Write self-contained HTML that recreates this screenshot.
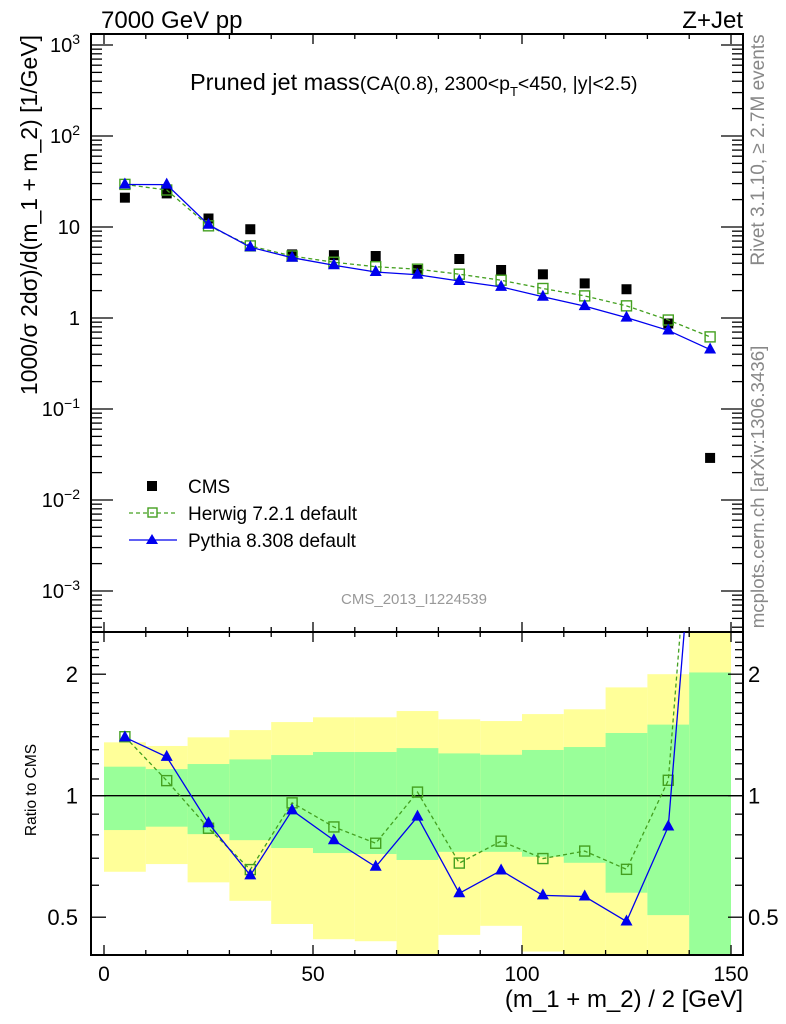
<!DOCTYPE html>
<html><head><meta charset="utf-8"><style>
html,body{margin:0;padding:0;background:#fff;}
svg{display:block;font-family:"Liberation Sans",Arial,sans-serif;}
</style></head><body>
<svg id="chart" width="786" height="1024" viewBox="0 0 786 1024" xmlns="http://www.w3.org/2000/svg">
<g id="bands"></g>
<g id="grid"></g>
<g id="series"></g>
<text x="101" y="28" font-size="24">7000 GeV pp</text>
<text x="743" y="28" font-size="24" text-anchor="end">Z+Jet</text>
<text x="190" y="90" font-size="23.5">Pruned jet mass<tspan font-size="19.5">(CA(0.8), 2300&lt;p<tspan font-size="13" dy="6">T</tspan><tspan dy="-6">&lt;450, |y|&lt;2.5)</tspan></tspan></text>
<text transform="translate(37,215) rotate(-90)" font-size="23" text-anchor="middle">1000/σ 2dσ)/d(m_1 + m_2) [1/GeV]</text>
<text transform="translate(36,790) rotate(-90)" font-size="15.5" text-anchor="middle">Ratio to CMS</text>
<text x="743" y="1007" font-size="24" text-anchor="end">(m_1 + m_2) / 2 [GeV]</text>
<text transform="translate(764,150) rotate(-90)" font-size="19" fill="#888" text-anchor="middle">Rivet 3.1.10, ≥ 2.7M events</text>
<text transform="translate(764,487) rotate(-90)" font-size="18.7" fill="#888" text-anchor="middle">mcplots.cern.ch [arXiv:1306.3436]</text>
<text x="414" y="604" font-size="15" fill="#999" text-anchor="middle">CMS_2013_I1224539</text>
<g>
<rect x="147" y="481" width="10" height="10" fill="#000"/>
<text x="188" y="493" font-size="19">CMS</text>
<line x1="129" y1="513" x2="177" y2="513" stroke="#44a020" stroke-width="1.3" stroke-dasharray="4,3"/>
<rect x="148" y="508" width="9" height="9" fill="none" stroke="#44a020" stroke-width="1.4"/>
<text x="188" y="520" font-size="19">Herwig 7.2.1 default</text>
<line x1="129" y1="540" x2="177" y2="540" stroke="#0000ee" stroke-width="1.3"/>
<polygon points="152,534 158,544 146,544" fill="#0000ee"/>
<text x="188" y="547" font-size="19">Pythia 8.308 default</text>
</g>
</svg>
<script>
const binCenters=[5,15,25,35,45,55,65,75,85,95,105,115,125,135,145];
const cmsValues=[21,23.4,12.4,9.45,5.0,4.9,4.8,3.37,4.45,3.37,3.02,2.4,2.07,0.87,0.029];
const herwigValues=[29.4,25.5,10.3,6.2,4.8,4.1,3.66,3.44,3.03,2.6,2.11,1.75,1.36,0.95,0.62];
const pythiaValues=[29.3,29.2,10.6,6.0,4.6,3.8,3.2,2.99,2.55,2.2,1.71,1.35,1.01,0.73,0.45];
const yellowHi=[1.356,1.328,1.395,1.454,1.522,1.564,1.564,1.621,1.546,1.531,1.593,1.637,1.855,2.0,3.0];
const greenHi=[1.18,1.164,1.198,1.23,1.261,1.283,1.283,1.312,1.273,1.263,1.298,1.32,1.43,1.5,2.02];
const greenLo=[0.822,0.838,0.803,0.776,0.742,0.721,0.717,0.693,0.726,0.726,0.706,0.682,0.575,0.506,0.3];
const yellowLo=[0.648,0.677,0.61,0.549,0.481,0.441,0.436,0.35,0.452,0.476,0.411,0.35,0.35,0.35,0.3];
const xTicks=[0,50,100,150];
const mainTickExps=[-3,-2,-1,0,1,2,3];
const ratioTicks=[0.5,1,2];

const NS="http://www.w3.org/2000/svg";
const L=91,R=743,T=34,MB=632,B=955;
const X=v=>104+v*4.18;
const Y=v=>318-91*Math.log10(v);
const RY=v=>795.7-121.5*Math.log2(v);
const clampR=y=>Math.max(MB,Math.min(B,y));
function mk(tag,attrs,parent){const e=document.createElementNS(NS,tag);for(const k in attrs)e.setAttribute(k,attrs[k]);parent.appendChild(e);return e;}
const bands=document.getElementById('bands'),grid=document.getElementById('grid'),ser=document.getElementById('series');

binCenters.forEach((c,i)=>{
  const x0=X(c-5),x1=X(c+5);
  let y1=clampR(RY(yellowHi[i])),y2=clampR(RY(yellowLo[i]));
  let r=mk('rect',{x:x0,y:y1,width:x1-x0,height:y2-y1,fill:'#ffff99'},bands);
  
  
  y1=clampR(RY(greenHi[i]));y2=clampR(RY(greenLo[i]));
  r=mk('rect',{x:x0,y:y1,width:x1-x0,height:y2-y1,fill:'#99ff99'},bands);
  
  
});

let f=mk('rect',{x:L,y:T,width:R-L,height:MB-T,fill:'none',stroke:'#000','stroke-width':2},grid);


f=mk('rect',{x:L,y:MB,width:R-L,height:B-MB,fill:'none',stroke:'#000','stroke-width':2},grid);


let ul=mk('line',{x1:L,y1:RY(1),x2:R,y2:RY(1),stroke:'#000','stroke-width':1.3},grid);



for(let v=0;v<=150;v+=10){
  const major=v%50===0,len=major?10:5,x=X(v);
  [[MB,-len],[B,-len],[T,len],[MB,len]].forEach(([y,d])=>mk('line',{x1:x,y1:y,x2:x,y2:y+d,stroke:'#000','stroke-width':1.3},grid));
}
xTicks.forEach(v=>{const t=mk('text',{x:X(v),y:981,'font-size':21,'text-anchor':'middle'},grid);t.textContent=v;
  
  });

for(let e=-4;e<=3;e++){for(let m=1;m<10;m++){const y=Y(m*Math.pow(10,e));if(y<T||y>MB)continue;const len=m===1?22:11;
  mk('line',{x1:L,y1:y,x2:L+len,y2:y,stroke:'#000','stroke-width':1.3},grid);
  mk('line',{x1:R,y1:y,x2:R-len,y2:y,stroke:'#000','stroke-width':1.3},grid);}}
mainTickExps.forEach(e=>{const y=Y(Math.pow(10,e));const t=mk('text',{x:80,y:y+7,'font-size':20,'text-anchor':'end'},grid);
  
  
  if(e===0)t.textContent='1';else if(e===1)t.textContent='10';
  else{t.textContent='10';const s=mk('tspan',{dy:-8,'font-size':14},t);s.textContent=String(e).replace('-','−');}});

for(let v=0.4;v<=2.5;v+=0.1){const y=RY(v);if(y<MB||y>B)continue;const major=ratioTicks.some(t=>Math.abs(t-v)<1e-6);const len=major?15:8;
  mk('line',{x1:L,y1:y,x2:L+len,y2:y,stroke:'#000','stroke-width':1.3},grid);
  mk('line',{x1:R,y1:y,x2:R-len,y2:y,stroke:'#000','stroke-width':1.3},grid);}
ratioTicks.forEach(v=>{const y=RY(v);
  let t=mk('text',{x:78,y:y+8,'font-size':22,'text-anchor':'end'},grid);t.textContent=v;
  
  
  t=mk('text',{x:748,y:y+8,'font-size':22},grid);t.textContent=v;
  
  });

const defs=mk('defs',{},document.getElementById('chart'));
const cp=mk('clipPath',{id:'rclip'},defs);mk('rect',{x:L,y:MB,width:R-L,height:B-MB},cp);

function drawSeries(vals,color,dash,marker,yf,clip,name){
  const g=mk('g',clip?{'clip-path':'url(#rclip)'}:{},ser);
  
  
  const pts=binCenters.map((c,i)=>X(c)+','+yf(vals[i])).join(' ');
  const pl=mk('polyline',{points:pts,fill:'none',stroke:color,'stroke-width':1.3},g);
  if(dash)pl.setAttribute('stroke-dasharray','4,3');
  binCenters.forEach((c,i)=>{const x=X(c),y=yf(vals[i]);let m;
    if(marker==='sq')m=mk('rect',{x:x-5,y:y-5,width:10,height:10,fill:'none',stroke:color,'stroke-width':1.4},g);
    else m=mk('polygon',{points:`${x},${y-7} ${x+6},${y+4} ${x-6},${y+4}`,fill:color},g);
    
    });
}
binCenters.forEach((c,i)=>{const r=mk('rect',{x:X(c)-5,y:Y(cmsValues[i])-5,width:10,height:10,fill:'#000'},ser);
  
  });
drawSeries(herwigValues,'#44a020',true,'sq',Y,false,'herwig');
drawSeries(pythiaValues,'#0000ee',false,'tri',Y,false,'pythia');
const hr=herwigValues.map((v,i)=>v/cmsValues[i]),pr=pythiaValues.map((v,i)=>v/cmsValues[i]);
drawSeries(hr,'#44a020',true,'sq',RY,true,'herwig-ratio');
drawSeries(pr,'#0000ee',false,'tri',RY,true,'pythia-ratio');
</script>
</body></html>
